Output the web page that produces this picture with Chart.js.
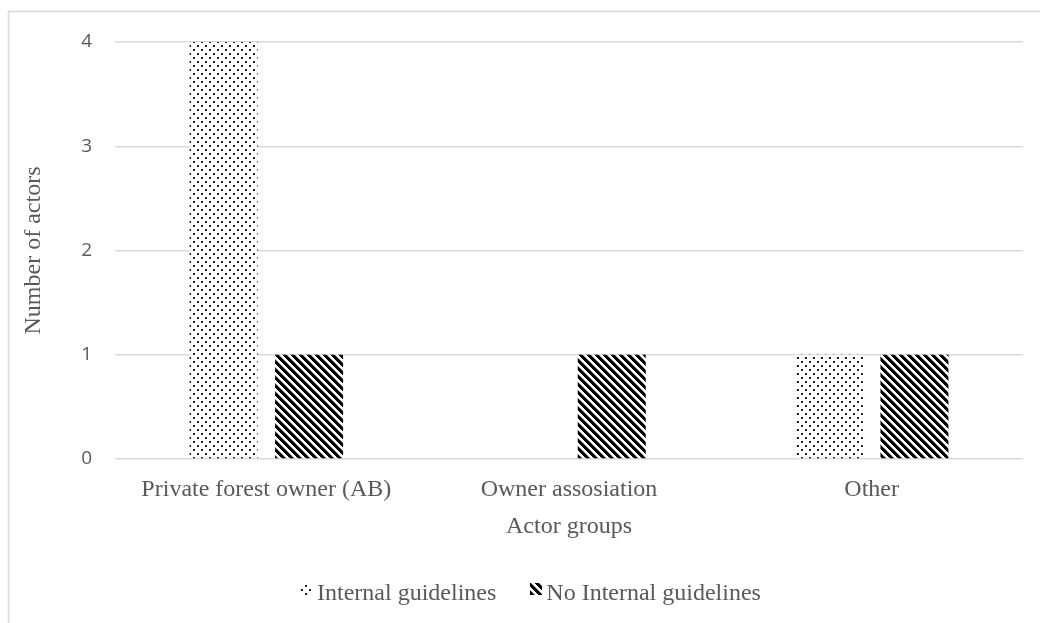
<!DOCTYPE html>
<html>
<head>
<meta charset="utf-8">
<script src="https://cdn.jsdelivr.net/npm/chart.js@4/dist/chart.umd.min.js"></script>
<style>
  html, body { margin: 0; padding: 0; background: #ffffff; }
  #wrap { width: 1040px; height: 623px; }
</style>
</head>
<body>
<div id="wrap"><canvas id="chart" width="1040" height="623"></canvas></div>
<script>
// Actor groups on the category axis
const categories = ['Private forest owner (AB)', 'Owner assosiation', 'Other'];
// Number of actors per group
const internalGuidelines = [4, 0, 1];
const noInternalGuidelines = [1, 1, 1];
const seriesNames = ['Internal guidelines', 'No Internal guidelines'];
const yTickValues = [0, 1, 2, 3, 4];

const TEXT = '#595959';
const GRID = '#d9d9d9';
const SERIF = "'Liberation Serif', 'Times New Roman', serif";

// Small dotted fill (staggered dots on an 8x8 tile)
function dotPattern() {
  const c = document.createElement('canvas');
  c.width = 8; c.height = 8;
  const g = c.getContext('2d');
  g.fillStyle = '#ffffff';
  g.fillRect(0, 0, 8, 8);
  g.fillStyle = '#1e1e1e';
  g.fillRect(1, 1, 2, 2);
  g.fillRect(5, 5, 2, 2);
  return g.createPattern(c, 'repeat');
}

// Wide downward diagonal stripes
function stripePattern() {
  const c = document.createElement('canvas');
  c.width = 8; c.height = 8;
  const g = c.getContext('2d');
  const img = g.createImageData(8, 8);
  for (let y = 0; y < 8; y++) {
    for (let x = 0; x < 8; x++) {
      const d = ((x - y) % 8 + 8) % 8;
      let v = 255;
      if (d < 4) v = 0;
      else if (d === 4) v = 150;
      const i = (y * 8 + x) * 4;
      img.data[i] = v; img.data[i + 1] = v; img.data[i + 2] = v; img.data[i + 3] = 255;
    }
  }
  g.putImageData(img, 0, 0);
  return g.createPattern(c, 'repeat');
}

const fills = [dotPattern(), stripePattern()];

// White background plus the outer frame lines
const framePlugin = {
  id: 'frame',
  beforeDraw(chart) {
    const ctx = chart.ctx;
    ctx.save();
    ctx.fillStyle = '#ffffff';
    ctx.fillRect(0, 0, chart.width, chart.height);
    ctx.strokeStyle = GRID;
    ctx.lineWidth = 1.5;
    ctx.beginPath();
    ctx.moveTo(8.5, chart.height + 2);
    ctx.lineTo(8.5, 11.5);
    ctx.lineTo(chart.width + 2, 11.5);
    ctx.stroke();
    ctx.restore();
  }
};

// Bottom legend: small patterned squares followed by the series names
const legendPlugin = {
  id: 'bottomLegend',
  afterDraw(chart) {
    const ctx = chart.ctx;
    const box = 12, gap = 4, spacing = 34;
    const centerX = 531, baseline = 600;
    ctx.save();
    ctx.font = '24px ' + SERIF;
    const items = chart.data.datasets.map(ds => ({ label: ds.label, fill: ds.backgroundColor, w: ctx.measureText(ds.label).width }));
    const total = items.reduce((s, it) => s + box + gap + it.w, 0) + spacing * (items.length - 1);
    let x = centerX - total / 2;
    items.forEach(it => {
      ctx.fillStyle = it.fill;
      ctx.fillRect(Math.round(x), baseline - 17, box, box);
      x += box + gap;
      ctx.fillStyle = TEXT;
      ctx.textBaseline = 'alphabetic';
      ctx.textAlign = 'left';
      ctx.fillText(it.label, x, baseline);
      x += it.w + spacing;
    });
    ctx.restore();
  }
};

new Chart(document.getElementById('chart'), {
  type: 'bar',
  data: {
    labels: categories,
    datasets: [
      { label: seriesNames[0], data: internalGuidelines, backgroundColor: fills[0], borderWidth: 0,
        barPercentage: 0.795, categoryPercentage: 0.565 },
      { label: seriesNames[1], data: noInternalGuidelines, backgroundColor: fills[1], borderWidth: 0,
        barPercentage: 0.795, categoryPercentage: 0.565 }
    ]
  },
  options: {
    responsive: false,
    devicePixelRatio: 1,
    animation: false,
    layout: { padding: { top: 42, right: 17, bottom: 82, left: 0 } },
    plugins: {
      legend: { display: false },
      tooltip: { enabled: false }
    },
    scales: {
      x: {
        type: 'category',
        offset: true,
        grid: { display: false },
        border: { display: false },
        ticks: { color: TEXT, font: { family: SERIF, size: 24 }, padding: 8, maxRotation: 0 },
        title: { display: true, text: 'Actor groups', color: TEXT, font: { family: SERIF, size: 24 }, padding: 0 },
        afterFit(scale) { scale.height = 82; }
      },
      y: {
        min: yTickValues[0],
        max: yTickValues[yTickValues.length - 1],
        afterBuildTicks(scale) { scale.ticks = yTickValues.map(v => ({ value: v })); },
        ticks: { color: TEXT, font: { family: "'Open Sans', sans-serif", size: 19 }, padding: 23 },
        grid: { color: GRID, lineWidth: 1.5, drawTicks: false },
        border: { display: false },
        title: { display: true, text: 'Number of actors', color: TEXT, font: { family: SERIF, size: 24 }, padding: { top: 19, bottom: 0 } },
        afterFit(scale) { scale.width = 115; }
      }
    }
  },
  plugins: [framePlugin, legendPlugin]
});
</script>
</body>
</html>
